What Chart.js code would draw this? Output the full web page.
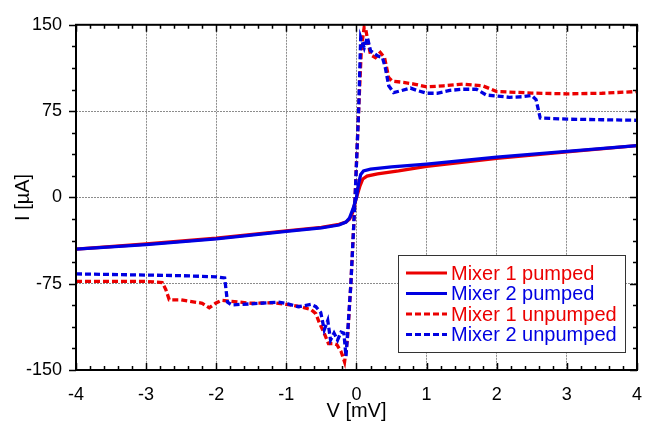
<!DOCTYPE html>
<html>
<head>
<meta charset="utf-8">
<script src="https://cdn.jsdelivr.net/npm/chart.js@4.4.1/dist/chart.umd.min.js"></script>
<style>
  html, body { margin: 0; padding: 0; background: #fff; }
  canvas { display: block; }
</style>
</head>
<body>
<canvas id="ivChart" width="656" height="425"></canvas>
<script>
// I-V curves, V in mV, I in µA

const m1PumpedV = [-4, -3, -2, -1, -0.5, -0.25, -0.15, -0.1, -0.06, 0, 0.05, 0.09, 0.15, 0.3, 0.6, 1, 2, 3, 4];
const m1PumpedI = [-45, -40.5, -35.5, -29, -26, -23.5, -21.5, -19, -14, 0, 10, 16, 18.5, 20.5, 23, 27, 34, 39.5, 45];

const m2PumpedV = [-4, -3, -2, -1, -0.5, -0.25, -0.15, -0.1, -0.05, 0, 0.03, 0.06, 0.1, 0.2, 0.5, 1, 2, 3, 4];
const m2PumpedI = [-45, -41, -36, -29.5, -26.5, -24, -21.5, -18, -10, 0, 12, 20, 23, 24.5, 26.5, 29, 35, 40, 45];

const m1UnpumpedV = [-4, -3.5, -3, -2.77, -2.72, -2.67, -2.5, -2.2, -2.1, -2.01, -1.92, -1.5, -1.2, -1.0, -0.8, -0.65, -0.58, -0.53, -0.46, -0.4, -0.33, -0.28, -0.22, -0.17, -0.13, -0.08, -0.02, 0.03, 0.07, 0.11, 0.13, 0.16, 0.2, 0.27, 0.34, 0.4, 0.46, 0.51, 0.67, 0.82, 1.0, 1.24, 1.52, 1.8, 2.0, 2.5, 3.0, 3.5, 4.0];
const m1UnpumpedI = [-73, -73, -73, -74, -80, -89, -89, -92, -96, -92, -89.5, -92, -91.5, -93, -95, -97.5, -101, -109, -118, -127, -127, -128, -134, -143, -124, -75, 0, 75, 130, 148, 147, 136, 124, 121.5, 126, 121.5, 104, 101, 100, 98.5, 96, 97, 98.5, 97, 92, 90.7, 90, 90.5, 92];

const m2UnpumpedV = [-4, -3, -2.5, -2.0, -1.88, -1.84, -1.78, -1.5, -1.12, -0.98, -0.83, -0.65, -0.58, -0.51, -0.46, -0.41, -0.37, -0.32, -0.27, -0.22, -0.18, -0.15, -0.12, -0.08, -0.02, 0.03, 0.06, 0.11, 0.155, 0.2, 0.3, 0.37, 0.41, 0.46, 0.53, 0.77, 0.86, 1.0, 1.15, 1.33, 1.52, 1.71, 1.85, 2.18, 2.37, 2.5, 2.56, 2.62, 3.0, 3.5, 4.0];
const m2UnpumpedI = [-66.5, -67.5, -68, -69, -70, -91, -93.4, -92.5, -91, -92.5, -95, -93, -95, -100, -115, -107, -124, -118, -124, -117, -118, -138, -112, -75, 0, 75, 139, 130, 139, 127.5, 123, 121.5, 113, 97, 91, 95, 93, 90.5, 90.5, 93, 94, 94, 89, 87, 87.5, 88.5, 85, 69, 68, 67.5, 67];

const xTicks = [-4, -3, -2, -1, 0, 1, 2, 3, 4];
const yTicks = [-150, -75, 0, 75, 150];

const RED = "rgb(235,0,0)";
const BLUE = "rgb(0,0,225)";
const FONT = "'Liberation Sans', Arial, sans-serif";

function toPoints(xs, ys) {
  return xs.map((x, i) => ({ x: x, y: ys[i] }));
}

// frame + tick marks on all four sides
const framePlugin = {
  id: "frame",
  afterDraw(chart) {
    const { ctx, chartArea: a, scales } = chart;
    const xs = scales.x, ys = scales.y;
    ctx.save();
    ctx.strokeStyle = "#000";
    ctx.lineWidth = 1.5;
    for (let i = 0; i <= 40; i++) {
      const v = -4 + i * 0.2;
      const px = Math.round(xs.getPixelForValue(v)) + 0.5;
      const len = i % 5 === 0 ? 7 : 4;
      ctx.beginPath();
      ctx.moveTo(px, a.bottom); ctx.lineTo(px, a.bottom - len);
      ctx.moveTo(px, a.top); ctx.lineTo(px, a.top + len);
      ctx.stroke();
    }
    // y ticks: left outward, right inward
    for (let i = 0; i <= 16; i++) {
      const v = -150 + i * 18.75;
      const py = Math.round(ys.getPixelForValue(v)) + 0.5;
      const len = i % 4 === 0 ? 7 : 4;
      ctx.beginPath();
      ctx.moveTo(a.left, py); ctx.lineTo(a.left - len, py);
      ctx.moveTo(a.right, py); ctx.lineTo(a.right - len, py);
      ctx.stroke();
    }
    ctx.lineWidth = 2;
    ctx.strokeRect(a.left, a.top, a.right - a.left, a.bottom - a.top);
    ctx.restore();
  }
};

// legend box inside the plot
const legendPlugin = {
  id: "insideLegend",
  afterDraw(chart) {
    const ctx = chart.ctx;
    const box = { x: 398, y: 255, w: 227, h: 97 };
    ctx.save();
    ctx.fillStyle = "#fff";
    ctx.fillRect(box.x, box.y, box.w, box.h);
    ctx.strokeStyle = "#333";
    ctx.lineWidth = 1;
    ctx.strokeRect(box.x + 0.5, box.y + 0.5, box.w, box.h);
    ctx.font = "20px " + FONT;
    ctx.textBaseline = "middle";
    const rows = [273, 293.5, 314, 334.5];
    chart.data.datasets.forEach((ds, i) => {
      const y = rows[i];
      ctx.strokeStyle = ds.borderColor;
      ctx.lineWidth = 3;
      ctx.setLineDash(ds.borderDash || []);
      ctx.beginPath();
      ctx.moveTo(406, y); ctx.lineTo(447, y);
      ctx.stroke();
      ctx.setLineDash([]);
      ctx.fillStyle = ds.borderColor;
      ctx.fillText(ds.label, 451, y + 1);
    });
    ctx.restore();
  }
};

const dash = [6, 3];

new Chart(document.getElementById("ivChart"), {
  type: "scatter",
  data: {
    datasets: [
      { label: "Mixer 1 pumped", data: toPoints(m1PumpedV, m1PumpedI), borderColor: RED, order: 3 },
      { label: "Mixer 2 pumped", data: toPoints(m2PumpedV, m2PumpedI), borderColor: BLUE, order: 1 },
      { label: "Mixer 1 unpumped", data: toPoints(m1UnpumpedV, m1UnpumpedI), borderColor: RED, borderDash: dash, order: 4 },
      { label: "Mixer 2 unpumped", data: toPoints(m2UnpumpedV, m2UnpumpedI), borderColor: BLUE, borderDash: dash, order: 2 }
    ].map(ds => Object.assign({
      showLine: true, pointRadius: 0, borderWidth: 3.3, tension: 0, fill: false
    }, ds))
  },
  options: {
    responsive: false,
    animation: false,
    devicePixelRatio: 1,
    layout: { padding: { left: 0, right: 14, top: 22, bottom: 0 } },
    plugins: { legend: { display: false }, tooltip: { enabled: false } },
    scales: {
      x: {
        type: "linear",
        min: -4, max: 4,
        afterFit: s => { s.height = 55; },
        afterBuildTicks: s => { s.ticks = xTicks.map(v => ({ value: v })); },
        ticks: { color: "#000", font: { size: 18, family: FONT }, padding: 14, maxRotation: 0 },
        grid: { color: "rgba(120,120,120,0.85)", lineWidth: 1, drawTicks: false },
        border: { display: false, dash: [2, 1] },
        title: { display: true, text: "V [mV]", color: "#000", font: { size: 20, family: FONT, lineHeight: 1.2 }, padding: { top: 0, bottom: 2 } }
      },
      y: {
        type: "linear",
        min: -150, max: 150,
        afterFit: s => { s.width = 76; },
        afterBuildTicks: s => { s.ticks = yTicks.map(v => ({ value: v })); },
        ticks: { color: "#000", font: { size: 18, family: FONT }, padding: 14 },
        grid: { color: "rgba(120,120,120,0.85)", lineWidth: 1, drawTicks: false },
        border: { display: false, dash: [2, 1] },
        title: { display: true, text: "I [µA]", color: "#000", font: { size: 20, family: FONT, lineHeight: 1.2 }, padding: { top: 11, bottom: 0 } }
      }
    }
  },
  plugins: [framePlugin, legendPlugin]
});
</script>
</body>
</html>
